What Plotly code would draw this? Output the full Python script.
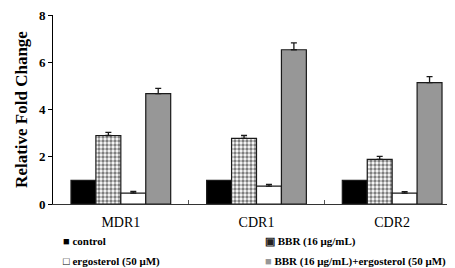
import plotly.graph_objects as go

categories = ["MDR1", "CDR1", "CDR2"]
series_names = ["control", "BBR (16 μg/mL)", "ergosterol (50 μM)", "BBR (16 μg/mL)+ergosterol (50 μM)"]
control = [1.0, 1.0, 1.0]
bbr = [2.9, 2.78, 1.89]
bbr_err = [0.13, 0.12, 0.13]
ergosterol = [0.46, 0.76, 0.46]
ergosterol_err = [0.07, 0.07, 0.06]
combo = [4.67, 6.53, 5.14]
combo_err = [0.22, 0.29, 0.25]
y_ticks = [0, 2, 4, 6, 8]

FONT = "Liberation Serif, Times New Roman, serif"
OUT = "#1a1a1a"
GREY = "#979797"

fig = go.Figure()
fig.add_bar(name=series_names[0], x=categories, y=control, showlegend=False,
            marker=dict(color="black", line=dict(color=OUT, width=1.2)))
fig.add_bar(name=series_names[1], x=categories, y=bbr, showlegend=False,
            marker=dict(color="white", line=dict(color=OUT, width=1.2),
                        pattern=dict(shape=".", size=4, solidity=0.55, fgcolor="black", bgcolor="white", fillmode="overlay")),
            error_y=dict(type="data", array=bbr_err, arrayminus=[0]*3, symmetric=False,
                         color=OUT, thickness=1.3, width=3))
fig.add_bar(name=series_names[2], x=categories, y=ergosterol, showlegend=False,
            marker=dict(color="white", line=dict(color=OUT, width=1.2)),
            error_y=dict(type="data", array=ergosterol_err, arrayminus=[0]*3, symmetric=False,
                         color=OUT, thickness=1.3, width=3))
fig.add_bar(name=series_names[3], x=categories, y=combo, showlegend=False,
            marker=dict(color=GREY, line=dict(color=OUT, width=1.2)),
            error_y=dict(type="data", array=combo_err, arrayminus=[0]*3, symmetric=False,
                         color=OUT, thickness=1.3, width=3))

# legend entries (symbol glyph drawn as text right before the label, like the reference)
glyphs = ['<span style="color:black">■</span>', '<span style="color:#222">▣</span>',
          '<span style="color:black">□</span>', f'<span style="color:{GREY}">■</span>']
legend_ids = ["legend", "legend2", "legend3", "legend4"]
for name, g, lg in zip(series_names, glyphs, legend_ids):
    fig.add_scatter(x=[None], y=[None], mode="markers", name=f"{g} {name}",
                    marker=dict(color="rgba(0,0,0,0)", size=1), legend=lg,
                    hoverinfo="skip")

leg_common = dict(orientation="h", xref="container", yref="container",
                  xanchor="left", yanchor="middle", itemwidth=30,
                  font=dict(family=FONT, size=11, color="black", weight="bold"),
                  bgcolor="rgba(0,0,0,0)")
col1_x, col2_x = (55 - 40) / 455, (257 - 40) / 455
row1_y, row2_y = 1 - 233 / 268, 1 - 253 / 268

fig.update_layout(
    width=455, height=268,
    margin=dict(l=45, r=3, t=7, b=72, autoexpand=False),
    paper_bgcolor="white", plot_bgcolor="white",
    barmode="group", bargap=0.265, bargroupgap=0,
    font=dict(family=FONT, color="black"),
    showlegend=True,
    legend=dict(x=col1_x, y=row1_y, **leg_common),
    legend2=dict(x=col2_x, y=row1_y, **leg_common),
    legend3=dict(x=col1_x, y=row2_y, **leg_common),
    legend4=dict(x=col2_x, y=row2_y, **leg_common),
)
fig.update_xaxes(showline=True, linecolor="#333", linewidth=1,
                 ticks="inside", tickson="boundaries", ticklen=4, tickcolor="#555",
                 tickfont=dict(family=FONT, size=14, color="black"),
                 ticklabelstandoff=5, showgrid=False, zeroline=False)
fig.update_yaxes(range=[0, 8], tickvals=y_ticks, showline=True, linecolor="black", linewidth=1,
                 ticks="outside", ticklen=4, tickcolor="black", ticklabeloverflow="allow",
                 tickfont=dict(family=FONT, size=13, color="black", weight="bold"),
                 showgrid=False, zeroline=False,
                 title=dict(text="Relative Fold Change", standoff=6,
                            font=dict(family=FONT, size=17, color="black", weight="bold")))

fig.write_html("out.html")
